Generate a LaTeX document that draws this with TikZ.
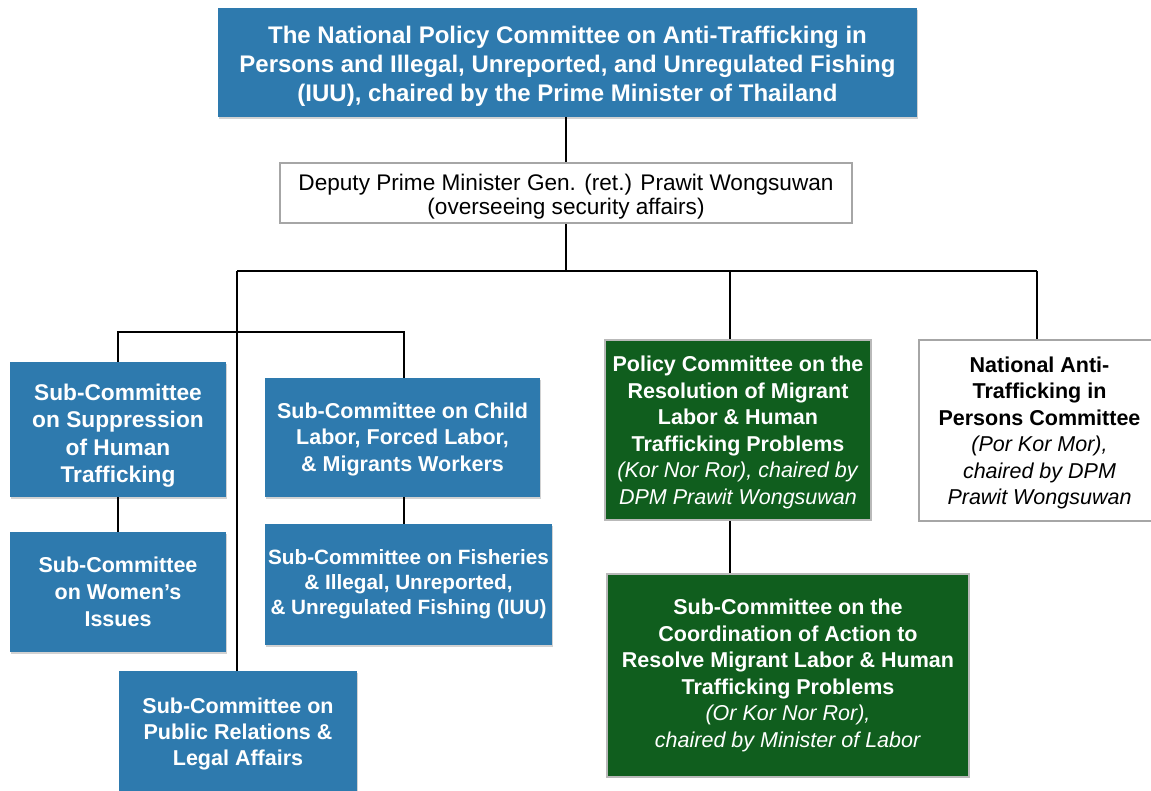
\documentclass[tikz,border=0pt]{standalone}
\usepackage{fontspec}
\setmainfont{Liberation Sans}
\usetikzlibrary{shadows}
\definecolor{boxblue}{RGB}{46,122,174}
\definecolor{boxgreen}{RGB}{16,94,30}
\begin{document}
\begin{tikzpicture}[x=1pt,y=-1pt,
  body/.style={font=\fontsize{21.5}{26.5}\selectfont, align=center, inner sep=0pt},
  bluebox/.style={body, fill=boxblue, text=white, drop shadow={shadow xshift=1pt, shadow yshift=-2pt, opacity=0.35}},
  greenbox/.style={body, fill=boxgreen, text=white, draw=gray!55, line width=1.5pt},
  whitebox/.style={body, fill=white, text=black, draw=gray!70, line width=2pt},
  link/.style={draw=black, line width=2pt}]
\fill[white] (0,0) rectangle (1151,790);
\useasboundingbox (0,0) rectangle (1151,790);

\node[bluebox, minimum width=699pt, minimum height=109pt, font=\fontsize{24}{29}\selectfont\bfseries] (top) at (567.5,62.5)
  {\rule{0pt}{25.5pt}The National Policy Committee on Anti-Trafficking in\\Persons and Illegal, Unreported, and Unregulated Fishing\\(IUU), chaired by the Prime Minister of Thailand};
\node[whitebox, minimum width=572pt, minimum height=60pt, font=\fontsize{22.6}{24.5}\selectfont] (dep) at (566,193)
  {\rule{0pt}{24pt}Deputy Prime Minister Gen. (ret.) Prawit Wongsuwan\\(overseeing security affairs)};

\node[bluebox, minimum width=216pt, minimum height=135pt, font=\fontsize{22.7}{27.3}\selectfont\bfseries] (supp) at (118,429.5)
  {\rule{0pt}{29pt}Sub-Committee\\on Suppression\\of Human\\Trafficking};
\node[bluebox, minimum width=216pt, minimum height=120pt, font=\fontsize{21.5}{27}\selectfont\bfseries] (women) at (118,592)
  {Sub-Committee\\on Women’s\\Issues};
\node[bluebox, minimum width=275pt, minimum height=119pt, font=\fontsize{21.5}{26.5}\selectfont\bfseries] (child) at (402.5,437.5)
  {\rule{0pt}{19pt}Sub-Committee on Child\\Labor, Forced Labor,\\\& Migrants Workers};
\node[bluebox, minimum width=287pt, minimum height=121pt, font=\fontsize{20.7}{25}\selectfont\bfseries] (fish) at (408.5,584.5)
  {Sub-Committee on Fisheries\\\& Illegal, Unreported,\\\& Unregulated Fishing (IUU)};
\node[bluebox, minimum width=238pt, minimum height=126pt, font=\fontsize{21.5}{26}\selectfont\bfseries] (pr) at (238,734)
  {Sub-Committee on\\Public Relations \&\\Legal Affairs};

\node[greenbox, minimum width=266pt, minimum height=180pt] (pol) at (738,430)
  {\rule{0pt}{20pt}\textbf{Policy Committee on the}\\\textbf{Resolution of Migrant}\\\textbf{Labor \& Human}\\\textbf{Trafficking Problems}\\\textit{(Kor Nor Ror), chaired by}\\\textit{DPM Prawit Wongsuwan}};
\node[whitebox, minimum width=241pt, minimum height=181pt] (nat) at (1039.5,430.5)
  {\rule{0pt}{20pt}\textbf{National Anti-}\\\textbf{Trafficking in}\\\textbf{Persons Committee}\\\textit{(Por Kor Mor),}\\\textit{chaired by DPM}\\\textit{Prawit Wongsuwan}};
\node[greenbox, minimum width=362pt, minimum height=203pt] (gsub) at (788,675.5)
  {\textbf{Sub-Committee on the}\\\textbf{Coordination of Action to}\\\textbf{Resolve Migrant Labor \& Human}\\\textbf{Trafficking Problems}\\\textit{(Or Kor Nor Ror),}\\\textit{chaired by Minister of Labor}};

% bus coordinates
\coordinate (b1) at (237,271);
\coordinate (b2) at (1037,271);
\coordinate (b3) at (730,271);
\coordinate (l1) at (118,332);
\coordinate (l2) at (404,332);

\draw[link] (top.south -| dep.north) -- (dep.north);
\draw[link] (dep.south) -- (dep.south |- b1);
\draw[link] (b1) -- (b2);
\draw[link] (b1) -- (b1 |- pr.north);
\draw[link] (b3) -- (b3 |- pol.north);
\draw[link] (b2) -- (b2 |- nat.north);
\draw[link] (supp.north) -- (l1) -- (l2) -- (l2 |- child.north);
\draw[link] (supp.south) -- (women.north);
\draw[link] (l2 |- child.south) -- (l2 |- fish.north);
\draw[link] (b3 |- pol.south) -- (b3 |- gsub.north);
\end{tikzpicture}
\end{document}
